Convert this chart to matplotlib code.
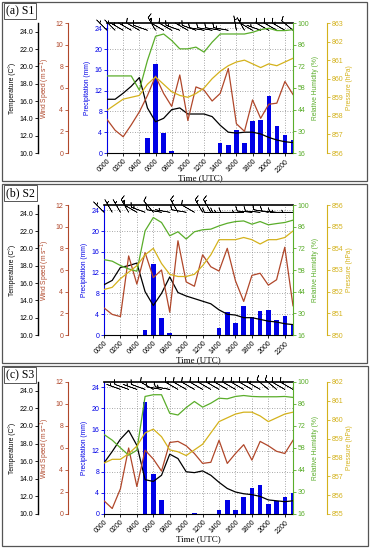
import matplotlib
matplotlib.use("Agg")
import matplotlib.pyplot as plt
import numpy as np
from matplotlib.patches import Rectangle

plt.rcParams["font.family"] = ["Liberation Sans", "DejaVu Sans"]

W, H = 372, 550
FONT_TICK = 5
FONT_LABEL = 4.8
LINE_WIDTH = 0.9

BLUE = "#0000e6"
BROWN = "#b0472a"
GREEN = "#5aad2a"
GOLD = "#d4b21c"

hours = list(range(24))
time_labels = ["0000", "0200", "0400", "0600", "0800", "1000",
               "1200", "1400", "1600", "1800", "2000", "2200"]

# station S1
s1_precip = [0, 0, 0, 0, 0, 2.9, 17.1, 3.8, 0.3, 0, 0, 0,
             0, 0, 2.0, 1.6, 4.5, 1.9, 6.2, 6.4, 11.0, 5.2, 3.5, 2.5]
s1_temp = [16.2, 16.2, 16.9, 17.7, 18.7, 15.2, 13.6, 14.0, 15.0, 15.2, 14.5, 14.5,
           14.5, 14.2, 13.2, 12.4, 12.3, 12.4, 12.4, 12.2, 11.8, 11.5, 11.3, 11.2]
s1_wind = [3.1, 2.1, 1.5, 2.6, 3.8, 5.3, 7.1, 5.5, 4.3, 7.2, 3.0, 6.1,
           5.8, 4.8, 5.5, 7.8, 2.7, 2.0, 4.9, 3.2, 4.5, 4.6, 6.6, 5.4]
s1_rh = [65.8, 65.8, 65.8, 65.8, 56.6, 75.8, 91.4, 92.9, 88.7, 83.3, 83.3, 84.4,
         81.2, 87.6, 92.9, 92.9, 92.9, 92.9, 94.0, 95.7, 96.6, 95.1, 95.1, 95.7]
s1_pres = [858.3, 858.6, 858.9, 859.0, 859.1, 859.7, 860.1, 859.7, 859.3, 859.1, 859.0, 859.2,
           859.5, 860.0, 860.4, 860.7, 860.9, 861.0, 860.8, 860.6, 860.8, 860.7, 860.9, 861.1]
s1_wdir = [315, 315, 300, 300, 300, 290, 330, 300, 300, 290, 300, 290,
           280, 280, 280, 280, 350, 330, 300, 290, 300, 300, 300, 310]

# station S2
s2_precip = [0, 0, 0, 0, 0, 1.0, 13.7, 3.3, 0.3, 0, 0, 0,
             0, 0, 1.4, 4.5, 2.4, 5.5, 3.5, 4.6, 4.8, 2.9, 3.6, 2.2]
s2_temp = [15.8, 16.3, 17.8, 18.0, 18.3, 15.0, 13.4, 14.8, 16.7, 14.9, 14.5, 14.2,
           13.9, 13.6, 12.9, 12.4, 12.3, 12.0, 12.0, 11.8, 11.6, 11.5, 11.3, 11.2]
s2_wind = [2.5, 1.9, 1.7, 7.3, 4.7, 7.6, 5.3, 6.0, 2.1, 8.7, 4.9, 4.5,
           7.4, 6.3, 5.9, 8.0, 5.0, 3.1, 5.5, 5.7, 4.6, 5.1, 8.1, 2.7]
s2_rh = [64.7, 63.7, 60.9, 58.7, 57.2, 83.3, 91.9, 88.7, 80.1, 82.7, 78.0, 82.7,
         84.0, 84.4, 86.5, 88.2, 89.3, 89.7, 87.6, 89.3, 87.2, 88.0, 88.7, 90.2]
s2_pres = [852.1, 852.2, 852.6, 852.9, 853.2, 853.7, 854.0, 853.3, 852.8, 852.7, 852.7, 852.8,
           853.2, 853.7, 854.4, 854.4, 854.4, 854.5, 854.4, 854.2, 854.4, 854.4, 854.5, 854.8]
s2_wdir = [315, 330, 330, 330, 300, 290, 320, 280, 280, 330, 280, 300,
           330, 330, 270, 270, 270, 270, 275, 275, 280, 275, 270, 270]

# station S3
s3_precip = [0, 0, 0, 0, 0, 21.2, 7.6, 2.7, 0, 0, 0, 0.1,
             0, 0, 0.8, 2.7, 0.8, 3.3, 4.9, 5.4, 1.9, 2.4, 3.3, 4.0]
s3_temp = [15.8, 17.1, 18.5, 19.5, 17.8, 13.9, 13.7, 14.4, 16.8, 16.3, 14.8, 14.7,
           14.9, 14.4, 13.6, 12.9, 12.5, 12.3, 12.2, 12.0, 11.6, 11.5, 11.4, 11.5]
s3_wind = [1.2, 0.5, 2.3, 6.0, 2.5, 5.8, 5.0, 3.9, 6.5, 6.6, 6.2, 5.5,
           4.6, 4.7, 6.7, 4.6, 5.5, 6.3, 4.9, 6.6, 6.2, 5.7, 5.5, 6.7]
s3_rh = [66.6, 63.0, 58.1, 53.4, 56.6, 90.8, 91.9, 91.9, 80.1, 79.0, 83.7, 87.6,
         84.0, 86.5, 89.7, 89.3, 90.8, 91.4, 90.8, 90.6, 90.6, 90.6, 90.8, 90.2]
s3_pres = [857.7, 857.9, 857.9, 858.2, 858.6, 859.3, 859.5, 859.1, 858.4, 858.3, 858.1, 858.4,
           858.7, 859.3, 859.9, 860.1, 860.3, 860.4, 860.4, 860.2, 859.9, 860.1, 860.3, 860.4]
s3_wdir = [315, 330, 290, 290, 290, 290, 300, 280, 280, 300, 300, 300,
           300, 300, 300, 300, 300, 300, 300, 300, 310, 310, 300, 300]


def style_axis(a, color):
    a.tick_params(axis="y", colors=color, labelsize=FONT_TICK, length=2,
                  width=0.6, pad=1.5)


def hide_spines(a, keep):
    for name, sp in a.spines.items():
        sp.set_visible(name == keep)


def draw_panel(fig, box, rect, tag, precip, temp, wind, rh, pres, pres_lo, wdir):
    # panel frame and tag
    x0, y0, x1, y1 = box
    fig.add_artist(Rectangle((x0 / W, 1 - y1 / H), (x1 - x0) / W, (y1 - y0) / H,
                             transform=fig.transFigure, fill=False,
                             ec="#555555", lw=0.9))
    fig.text((x0 + 4) / W, 1 - (y0 + 9) / H, tag, family="Liberation Serif",
             fontsize=8.5, va="center", ha="left",
             bbox=dict(boxstyle="square,pad=0.15", fc="white", ec="#555555", lw=0.7))

    left, top, right, bottom = rect
    width = right - left
    ax = fig.add_axes([left / W, 1 - bottom / H, width / W, (bottom - top) / H])

    # precipitation bars on the main axes
    ax.bar(hours, precip, width=0.55, color=BLUE, zorder=2)
    ax.set_xlim(0, 23)
    ax.set_ylim(0, 25)
    ax.set_yticks(range(0, 25, 4))
    ax.set_xticks(range(0, 23, 2))
    ax.set_xticklabels(time_labels, rotation=45, ha="right",
                       rotation_mode="anchor", fontsize=FONT_TICK)
    ax.tick_params(axis="x", length=2, width=0.6, pad=1.5)
    style_axis(ax, BLUE)
    ax.grid(color="#8c8c8c", ls=(0, (1, 2)), lw=0.6)
    ax.set_axisbelow(True)
    ax.set_ylabel("Precipitation (mm)", color=BLUE, fontsize=FONT_LABEL, labelpad=2)
    ax.set_xlabel("Time (UTC)", family="Liberation Serif", fontsize=6.5, labelpad=0)
    ax.spines["left"].set_color(BLUE)
    ax.spines["right"].set_visible(False)
    ax.spines["top"].set_linewidth(1.2)
    ax.spines["bottom"].set_linewidth(0.8)

    # wind barbs along the top
    rad = np.deg2rad(wdir)
    spd = np.array(wind)
    u = -spd * np.sin(rad)
    v = -spd * np.cos(rad)
    ax.barbs(hours, np.full(len(hours), 23.6), u, v, length=4.6, lw=0.45,
             barb_increments=dict(half=2.5, full=5, flag=25),
             sizes=dict(spacing=0.2, height=0.3, emptybarb=0.0),
             clip_on=False, zorder=5)

    # temperature, far left
    ax_t = ax.twinx()
    ax_t.plot(hours, temp, color="black", lw=LINE_WIDTH)
    ax_t.set_ylim(10, 25)
    ax_t.set_yticks(np.arange(10, 25, 2))
    ax_t.yaxis.set_major_formatter("{x:.1f}")
    ax_t.yaxis.tick_left()
    ax_t.yaxis.set_label_position("left")
    hide_spines(ax_t, "left")
    ax_t.spines["left"].set_position(("axes", (38 - left) / width))
    ax_t.spines["left"].set_linewidth(1.0)
    style_axis(ax_t, "black")
    ax_t.set_ylabel("Temperature (C°)", fontsize=FONT_LABEL, labelpad=2)

    # wind speed, second left axis
    ax_w = ax.twinx()
    ax_w.plot(hours, wind, color=BROWN, lw=LINE_WIDTH)
    ax_w.set_ylim(0, 12)
    ax_w.set_yticks(range(0, 13, 2))
    ax_w.yaxis.tick_left()
    ax_w.yaxis.set_label_position("left")
    hide_spines(ax_w, "left")
    ax_w.spines["left"].set_position(("axes", (68 - left) / width))
    ax_w.spines["left"].set_color(BROWN)
    style_axis(ax_w, BROWN)
    ax_w.set_ylabel("Wind Speed (m s$^{-1}$)", color=BROWN, fontsize=FONT_LABEL, labelpad=2)

    # relative humidity, right edge
    ax_rh = ax.twinx()
    ax_rh.plot(hours, rh, color=GREEN, lw=LINE_WIDTH)
    ax_rh.set_ylim(16, 100)
    ax_rh.set_yticks(range(16, 101, 14))
    hide_spines(ax_rh, "right")
    ax_rh.spines["right"].set_color(GREEN)
    style_axis(ax_rh, GREEN)
    ax_rh.set_ylabel("Relative Humidity (%)", color=GREEN, fontsize=FONT_LABEL, labelpad=2)

    # pressure, outer right axis
    ax_p = ax.twinx()
    ax_p.plot(hours, pres, color=GOLD, lw=LINE_WIDTH)
    ax_p.set_ylim(pres_lo, pres_lo + (7 if pres_lo != 850 else 6))
    ax_p.set_yticks(range(pres_lo, pres_lo + (8 if pres_lo != 850 else 7)))
    hide_spines(ax_p, "right")
    ax_p.spines["right"].set_position(("axes", (327 - left) / width))
    ax_p.spines["right"].set_color(GOLD)
    style_axis(ax_p, GOLD)
    ax_p.set_ylabel("Pressure (hPa)", color=GOLD, fontsize=FONT_LABEL, labelpad=2)


def main():
    fig = plt.figure(figsize=(W / 100, H / 100), dpi=100)
    draw_panel(fig, (2, 2, 367, 181), (107, 23, 293, 153), "(a) S1",
               s1_precip, s1_temp, s1_wind, s1_rh, s1_pres, 856, s1_wdir)
    draw_panel(fig, (2, 184, 367, 363), (104, 205, 293, 335), "(b) S2",
               s2_precip, s2_temp, s2_wind, s2_rh, s2_pres, 850, s2_wdir)
    draw_panel(fig, (2, 366, 368, 546), (104, 382, 293, 514), "(c) S3",
               s3_precip, s3_temp, s3_wind, s3_rh, s3_pres, 855, s3_wdir)
    fig.savefig("out.png", dpi=100)


if __name__ == "__main__":
    main()
